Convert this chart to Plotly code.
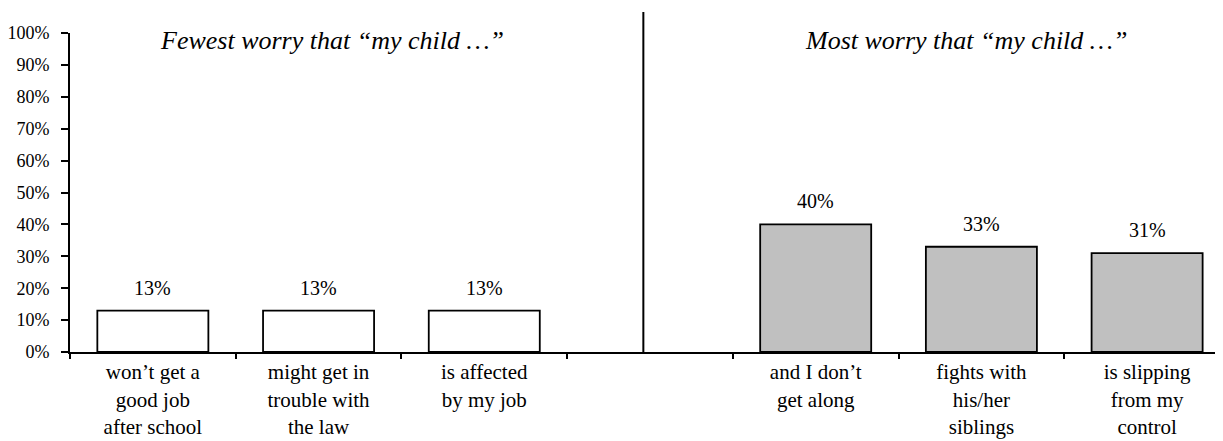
import plotly.graph_objects as go

# ---- data ----
fewest_labels = ["won’t get a<br>good job<br>after school",
                 "might get in<br>trouble with<br>the law",
                 "is affected<br>by my job"]
fewest_values = [13, 13, 13]
gap_label = " "
most_labels = ["and I don’t<br>get along",
               "fights with<br>his/her<br>siblings",
               "is slipping<br>from my<br>control"]
most_values = [40, 33, 31]
y_ticks = [0, 10, 20, 30, 40, 50, 60, 70, 80, 90, 100]
y_tick_text = [f"{v}%" for v in y_ticks]
title_fewest = "Fewest worry that “my child …”"
title_most = "Most worry that “my child …”"

categories = fewest_labels + [gap_label] + most_labels
FONT = "Liberation Serif, Times New Roman, serif"

fig = go.Figure()
fig.add_trace(go.Bar(x=fewest_labels, y=fewest_values, width=0.67,
                     marker=dict(color="white", line=dict(color="black", width=1.8)),
                     hoverinfo="skip"))
fig.add_trace(go.Bar(x=most_labels, y=most_values, width=0.67,
                     marker=dict(color="#c0c0c0", line=dict(color="black", width=1.8)),
                     hoverinfo="skip"))

# value labels
for xs, ys in ((fewest_labels, fewest_values), (most_labels, most_values)):
    for xv, yv in zip(xs, ys):
        fig.add_annotation(x=xv, y=yv, text=f"{yv}%", showarrow=False,
                           yanchor="bottom", yshift=10,
                           font=dict(family=FONT, size=20, color="black"))

# group titles
fig.add_annotation(x=1.08, y=0.978, xref="x", yref="paper", yanchor="middle",
                   text=f"<i>{title_fewest}</i>",
                   showarrow=False, font=dict(family=FONT, size=26, color="black"))
fig.add_annotation(x=4.91, y=0.978, xref="x", yref="paper", yanchor="middle",
                   text=f"<i>{title_most}</i>",
                   showarrow=False, font=dict(family=FONT, size=26, color="black"))

# divider
fig.add_shape(type="line", xref="x", yref="paper", x0=2.96, x1=2.96, y0=0, y1=1.066,
              line=dict(color="black", width=2))

# page body has an 8px default margin: size the figure to fill the rest
fig.update_layout(
    width=1215, height=433,
    margin=dict(l=62, r=0, t=25, b=89),
    paper_bgcolor="white", plot_bgcolor="white",
    showlegend=False, barmode="overlay",
    font=dict(family=FONT, color="black"),
)
fig.update_xaxes(type="category", categoryorder="array", categoryarray=categories,
                 range=[-0.5, 6.458], tickson="boundaries", ticks="outside", ticklen=5,
                 tickwidth=2, tickcolor="black", showline=True, linecolor="black", linewidth=2,
                 showgrid=False, zeroline=False, tickfont=dict(family=FONT, size=21),
                 ticklabelstandoff=0, automargin=False)
fig.update_yaxes(range=[0, 100], tickvals=y_ticks, ticktext=y_tick_text, ticks="outside",
                 ticklen=7, tickwidth=2, tickcolor="black", showline=True, linecolor="black",
                 linewidth=2, showgrid=False, zeroline=False,
                 tickfont=dict(family=FONT, size=18), ticklabelstandoff=8, automargin=False)

fig.write_html("out.html")
